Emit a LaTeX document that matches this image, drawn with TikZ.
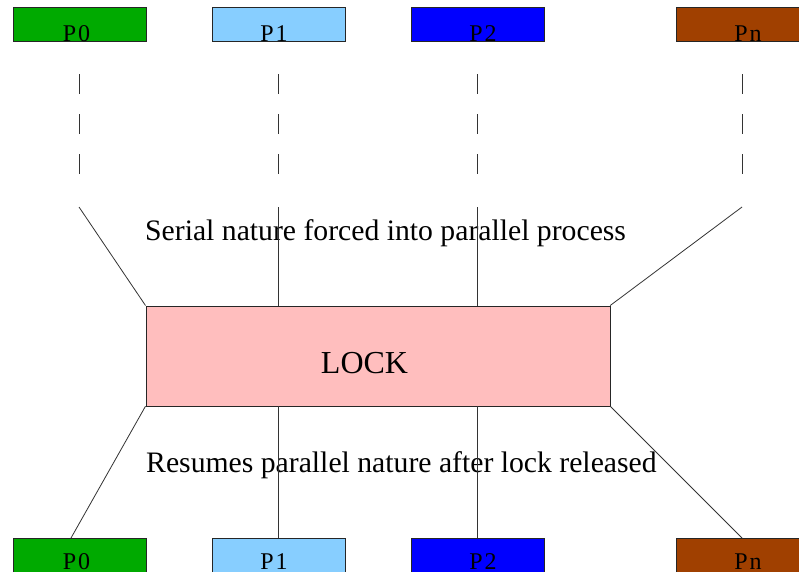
\documentclass[tikz,border=0pt]{standalone}
\usepackage{fontspec}
\setmainfont{Liberation Serif}
\begin{document}
\begin{tikzpicture}[x=1pt,y=-1pt,
  pbox/.style={draw=black!85,line width=0.7pt,minimum width=133pt,minimum height=34pt,inner sep=0pt,anchor=north west},
  plabel/.style={font=\fontsize{24}{24}\selectfont,anchor=base,inner sep=0pt},
  bigtext/.style={font=\fontsize{29.7}{36}\selectfont,inner sep=0pt},
  conn/.style={draw=black!80,line width=0.8pt},
  dashconn/.style={conn,dash pattern=on 20pt off 20pt}]
\useasboundingbox (0,0) rectangle (799,571);
% top boxes
\node[pbox,fill={rgb,255:red,0;green,170;blue,0}] (t0) at (13,7) {};
\node[pbox,fill={rgb,255:red,135;green,206;blue,255}] (t1) at (212,7) {};
\node[pbox,fill={rgb,255:red,0;green,0;blue,255}] (t2) at (411,7) {};
\node[pbox,fill={rgb,255:red,160;green,64;blue,0},minimum width=140pt] (tn) at (676,7) {};
\node[plabel] (lt0) at (76.5,41) {P\kern2pt0};
\node[plabel] (lt1) at (274,41) {P\kern2pt1};
\node[plabel] (lt2) at (483,41) {P\kern2pt2};
\node[plabel] (ltn) at (748,41) {P\kern2pt n};
% bottom boxes
\node[pbox,fill={rgb,255:red,0;green,170;blue,0}] (b0) at (13,538) {};
\node[pbox,fill={rgb,255:red,135;green,206;blue,255}] (b1) at (212,538) {};
\node[pbox,fill={rgb,255:red,0;green,0;blue,255}] (b2) at (411,538) {};
\node[pbox,fill={rgb,255:red,160;green,64;blue,0},minimum width=140pt] (bn) at (676,538) {};
\node[plabel] (lb0) at (76.5,569) {P\kern2pt0};
\node[plabel] (lb1) at (274,569) {P\kern2pt1};
\node[plabel] (lb2) at (483,569) {P\kern2pt2};
\node[plabel] (lbn) at (748,569) {P\kern2pt n};
% lock
\node[draw=black!85,line width=0.7pt,fill={rgb,255:red,255;green,190;blue,190},minimum width=464pt,minimum height=100pt,inner sep=0pt,anchor=north west] (lock) at (145.5,305.5) {};
\node[font=\fontsize{32}{36}\selectfont,inner sep=0pt,anchor=base] (locktxt) at (364.5,373) {LOCK};
% texts
\node[bigtext,anchor=base west] (serial) at (145,240) {Serial nature forced into parallel process};
\node[bigtext,anchor=base west] (resume) at (146,472) {Resumes parallel nature after lock released};
% coordinates
\coordinate (d0a) at (79,74);  \coordinate (d0b) at (79,174);
\coordinate (d1a) at (278,74); \coordinate (d1b) at (278,174);
\coordinate (d2a) at (477,74); \coordinate (d2b) at (477,174);
\coordinate (dna) at (742,74); \coordinate (dnb) at (742,174);
\coordinate (s0) at (79,207);
\coordinate (s1) at (278,207);
\coordinate (s2) at (477,207);
\coordinate (sn) at (742,207);
\coordinate (e0) at (71,538);
% dashed
\draw[dashconn] (d0a) -- (d0b);
\draw[dashconn] (d1a) -- (d1b);
\draw[dashconn] (d2a) -- (d2b);
\draw[dashconn] (dna) -- (dnb);
% top connectors
\draw[conn] (s0) -- (lock.north west);
\draw[conn] (s1) -- (s1 |- lock.north);
\draw[conn] (s2) -- (s2 |- lock.north);
\draw[conn] (sn) -- (lock.north east);
% bottom connectors
\draw[conn] (lock.south west) -- (e0);
\draw[conn] (s1 |- lock.south) -- (s1 |- b1.north);
\draw[conn] (s2 |- lock.south) -- (s2 |- b2.north);
\draw[conn] (lock.south east) -- (sn |- bn.north);
\end{tikzpicture}
\end{document}
